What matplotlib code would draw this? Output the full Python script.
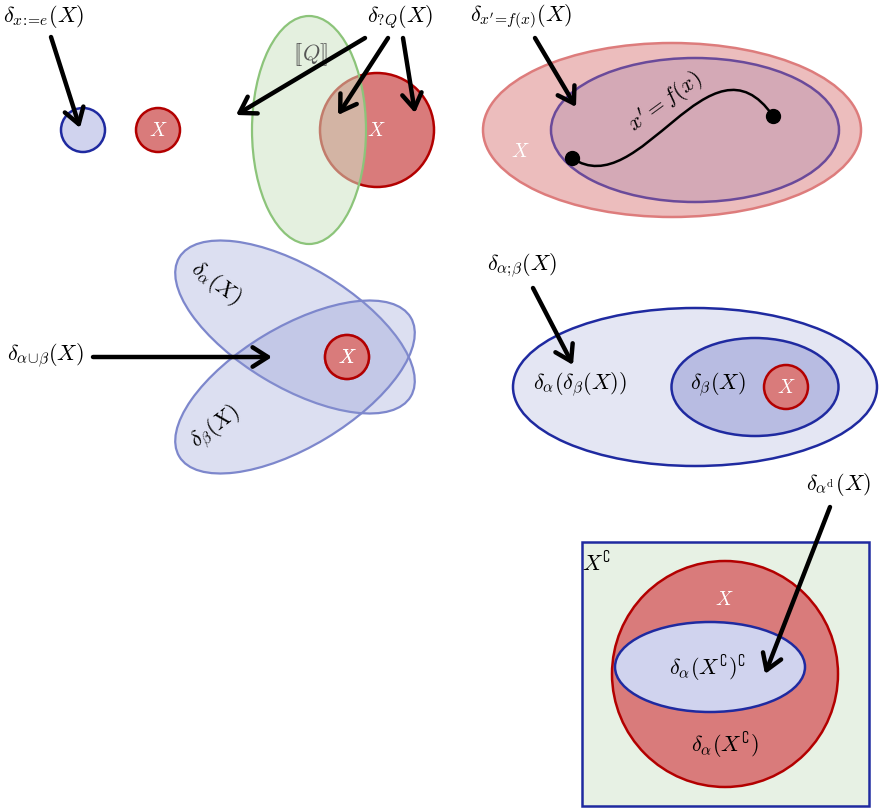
import matplotlib
matplotlib.use("Agg")
import matplotlib.pyplot as plt
from matplotlib.patches import Circle, Ellipse, Rectangle, PathPatch
from matplotlib.path import Path

plt.rcParams["mathtext.fontset"] = "cm"
plt.rcParams["font.family"] = ["DejaVu Serif"]

# colours
RED_FILL, RED_EDGE = "#d97b7b", "#b30000"
BLUE_FILL, BLUE_EDGE = "#d0d3ee", "#1f2aa0"
GREEN_FILL, GREEN_EDGE = "#cfe4c6", "#8cc47a"

# shapes in pixel space (x, y, size)
small_circles = [(83, 130, 22, BLUE_FILL, BLUE_EDGE, ""),
                 (158, 130, 22, RED_FILL, RED_EDGE, "X"),
                 (347, 357, 22, RED_FILL, RED_EDGE, "X"),
                 (786, 387, 22, RED_FILL, RED_EDGE, "X")]
test_circle = (377, 130, 57)
guard_ellipse = (309, 130, 114, 228)
assign_outer = (672, 130, 378, 174)
assign_inner = (695, 130, 288, 144)
curve_pts = [(572, 158), (640, 205), (710, 25), (773, 116)]
union_ellipses = [(295, 327, 270, 120, 31), (295, 387, 270, 120, -31)]
seq_outer = (695, 387, 364, 158)
seq_inner = (755, 387, 167, 98)
dual_rect = (582, 542, 287, 264)
dual_circle = (725, 674, 113)
dual_inner = (710, 667, 190, 90)

# arrows: (start, end)
arrows = [((51, 37), (80, 128)),
          ((365, 38), (236, 115)),
          ((388, 38), (338, 115)),
          ((403, 38), (415, 113)),
          ((535, 38), (576, 107)),
          ((93, 357), (272, 357)),
          ((533, 288), (573, 365)),
          ((830, 507), (765, 674))]

# text labels: (x, y, text, size, rotation, colour)
labels = [(44, 17, r"$\delta_{x\!:\!\!=\!e}(X)$", 16, 0, "black"),
          (400, 17, r"$\delta_{?Q}(X)$", 16, 0, "black"),
          (521, 17, r"$\delta_{x'\!=\!f(x)}(X)$", 16, 0, "black"),
          (45, 356, r"$\delta_{\alpha\!\cup\!\beta}(X)$", 16, 0, "black"),
          (522, 266, r"$\delta_{\alpha;\!\beta}(X)$", 16, 0, "black"),
          (838, 484, r"$\delta_{\alpha^{\mathrm{d}}}(X)$", 16, 0, "black"),
          (216, 283, r"$\delta_{\alpha}(X)$", 16, -37, "black"),
          (216, 428, r"$\delta_{\beta}(X)$", 16, 37, "black"),
          (580, 385, r"$\delta_{\alpha}(\delta_{\beta}(X))$", 16, 0, "black"),
          (718, 385, r"$\delta_{\beta}(X)$", 16, 0, "black"),
          (665, 103, r"$x' = f(x)$", 16, 36, "black"),
          (520, 152, r"$X$", 14, 0, "white"),
          (376, 131, r"$X$", 14, 0, "white"),
          (724, 600, r"$X$", 14, 0, "white"),
          (597, 564, r"$X^{\complement}$", 16, 0, "black"),
          (708, 668, r"$\delta_{\alpha}(X^{\complement})^{\complement}$", 16, 0, "black"),
          (725, 745, r"$\delta_{\alpha}(X^{\complement})$", 16, 0, "black"),
          (311, 55, r"$[\![Q]\!]$", 16, 0, "#555555")]

fig = plt.figure(figsize=(8.8, 8.11), dpi=100)
ax = fig.add_axes([0, 0, 1, 1])
ax.set_xlim(0, 880)
ax.set_ylim(811, 0)
ax.axis("off")

# panel 1: assignment and test
cx, cy, r = test_circle
ax.add_patch(Circle((cx, cy), r, facecolor=RED_FILL, edgecolor=RED_EDGE, lw=1.8))
gx, gy, gw, gh = guard_ellipse
ax.add_patch(Ellipse((gx, gy), gw, gh, facecolor=GREEN_FILL, alpha=0.55, edgecolor="none"))
ax.add_patch(Ellipse((gx, gy), gw, gh, facecolor="none", edgecolor=GREEN_EDGE, lw=1.6))

for x, y, rad, fc, ec, lab in small_circles:
    ax.add_patch(Circle((x, y), rad, facecolor=fc, edgecolor=ec, lw=1.8))
    if lab:
        ax.text(x, y + 1, f"${lab}$", fontsize=14, color="white", ha="center", va="center")

# panel 2: nondeterministic assignment
x, y, w, h = assign_outer
ax.add_patch(Ellipse((x, y), w, h, facecolor="#ecbdbd", edgecolor="#dd7c7c", lw=1.8))
x, y, w, h = assign_inner
ax.add_patch(Ellipse((x, y), w, h, facecolor="#d4a9b6", edgecolor="#6a4a9a", lw=1.8))
path = Path(curve_pts, [Path.MOVETO, Path.CURVE4, Path.CURVE4, Path.CURVE4])
ax.add_patch(PathPatch(path, facecolor="none", edgecolor="black", lw=1.8))
ax.plot([curve_pts[0][0], curve_pts[-1][0]], [curve_pts[0][1], curve_pts[-1][1]],
        "o", color="black", ms=10, ls="none")

# panel 3: union
for x, y, w, h, ang in union_ellipses:
    ax.add_patch(Ellipse((x, y), w, h, angle=ang, facecolor="#8c96d2", alpha=0.3, edgecolor="none"))
    ax.add_patch(Ellipse((x, y), w, h, angle=ang, facecolor="none", edgecolor="#7d87cc", lw=1.6))
ax.add_patch(Circle(small_circles[2][:2], small_circles[2][2], facecolor=RED_FILL,
                    edgecolor=RED_EDGE, lw=1.8))
ax.text(347, 358, r"$X$", fontsize=14, color="white", ha="center", va="center")

# panel 4: sequence
x, y, w, h = seq_outer
ax.add_patch(Ellipse((x, y), w, h, facecolor="#e4e6f3", edgecolor=BLUE_EDGE, lw=1.8, zorder=0.5))
x, y, w, h = seq_inner
ax.add_patch(Ellipse((x, y), w, h, facecolor="#b8bce2", edgecolor=BLUE_EDGE, lw=1.8, zorder=0.6))

# panel 5: dual
x, y, w, h = dual_rect
ax.add_patch(Rectangle((x, y), w, h, facecolor="#e7f1e4", edgecolor=BLUE_EDGE, lw=1.8))
x, y, r = dual_circle
ax.add_patch(Circle((x, y), r, facecolor=RED_FILL, edgecolor=RED_EDGE, lw=1.8))
x, y, w, h = dual_inner
ax.add_patch(Ellipse((x, y), w, h, facecolor=BLUE_FILL, edgecolor=BLUE_EDGE, lw=1.8))

for x, y, s, fs, rot, col in labels:
    ax.text(x, y, s, fontsize=fs, rotation=rot, color=col, ha="center", va="center",
            rotation_mode="anchor", zorder=5)

for (x0, y0), (x1, y1) in arrows:
    ax.annotate("", xy=(x1, y1), xytext=(x0, y0), zorder=6,
                arrowprops=dict(arrowstyle="->,head_length=0.55,head_width=0.35",
                                lw=3.2, color="black", shrinkA=0, shrinkB=0,
                                mutation_scale=20, capstyle="round", joinstyle="round"))

fig.savefig("out.png", dpi=100)
